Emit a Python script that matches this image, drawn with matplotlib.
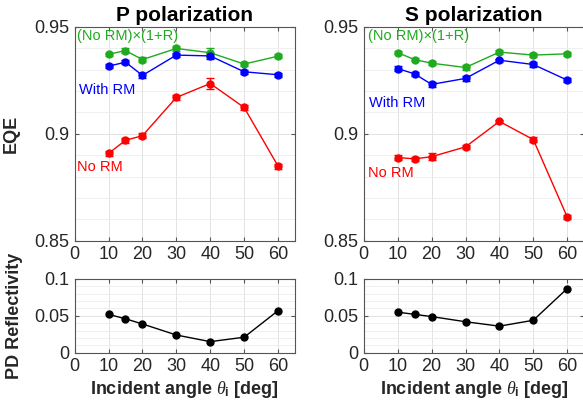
import matplotlib
matplotlib.use('Agg')
import matplotlib.pyplot as plt
from matplotlib.ticker import MultipleLocator

plt.rcParams['font.family'] = ['Liberation Sans', 'DejaVu Sans']
plt.rcParams['mathtext.fontset'] = 'custom'
plt.rcParams['mathtext.it'] = 'Liberation Serif:italic'
plt.rcParams['mathtext.bf'] = 'Liberation Sans:bold'

angles = [10, 15, 20, 30, 40, 50, 60]

# P polarization
p_norm = [0.8908, 0.8970, 0.8991, 0.9170, 0.9235, 0.9123, 0.8849]
p_norm_err = [0.0010, 0.0012, 0.0012, 0.0010, 0.0025, 0.0010, 0.0012]
p_with = [0.9316, 0.9335, 0.9273, 0.9368, 0.9364, 0.9290, 0.9276]
p_with_err = [0.0010, 0.0010, 0.0012, 0.0008, 0.0015, 0.0010, 0.0010]
p_corr = [0.9372, 0.9389, 0.9347, 0.9399, 0.9379, 0.9326, 0.9363]
p_corr_err = [0.0008, 0.0010, 0.0010, 0.0010, 0.0020, 0.0010, 0.0010]
p_refl = [0.052, 0.046, 0.039, 0.024, 0.015, 0.021, 0.057]

# S polarization
s_norm = [0.8889, 0.8883, 0.8893, 0.8939, 0.9058, 0.8973, 0.8611]
s_norm_err = [0.0010, 0.0010, 0.0015, 0.0010, 0.0006, 0.0010, 0.0008]
s_with = [0.9305, 0.9280, 0.9231, 0.9259, 0.9344, 0.9324, 0.9251]
s_with_err = [0.0010, 0.0010, 0.0012, 0.0010, 0.0008, 0.0010, 0.0010]
s_corr = [0.9379, 0.9347, 0.9330, 0.9310, 0.9382, 0.9368, 0.9374]
s_corr_err = [0.0008, 0.0006, 0.0010, 0.0010, 0.0008, 0.0008, 0.0008]
s_refl = [0.055, 0.052, 0.049, 0.042, 0.036, 0.044, 0.087]

GREEN = '#1faa1f'
BLUE = '#0000ff'
RED = '#ff0000'
TXT = '#262626'

fig = plt.figure(figsize=(5.83, 4.13), dpi=100)


def style(ax, ylim, major, minor):
    ax.set_xlim(0, 65)
    ax.set_ylim(*ylim)
    ax.xaxis.set_major_locator(MultipleLocator(10))
    ax.yaxis.set_major_locator(MultipleLocator(major))
    ax.yaxis.set_minor_locator(MultipleLocator(minor))
    ax.grid(True, which='major', color='#e3e3e3', lw=0.7)
    ax.grid(True, which='minor', axis='y', color='#eeeeee', lw=0.6)
    ax.set_axisbelow(True)
    ax.tick_params(which='both', direction='in', top=True, right=True,
                   labelsize=13, length=3, color='#555555', labelcolor=TXT, pad=4)
    ax.tick_params(which='minor', length=0)
    for s in ax.spines.values():
        s.set_color('#555555')
        s.set_linewidth(0.8)


def eqe_panel(rect, title, norm, norm_err, withrm, with_err, corr, corr_err, labels):
    ax = fig.add_axes(rect)
    kw = dict(fmt='o-', ms=5, capsize=3, elinewidth=1, lw=1)
    ax.errorbar(angles, corr, yerr=corr_err, color=GREEN, **kw)
    ax.errorbar(angles, withrm, yerr=with_err, color=BLUE, **kw)
    ax.errorbar(angles, norm, yerr=norm_err, color=RED, **kw)
    style(ax, (0.85, 0.95), 0.05, 0.01)
    ax.yaxis.set_major_formatter(plt.FuncFormatter(lambda v, p: f'{v:g}'))
    ax.set_title(title, fontsize=15, fontweight='bold', pad=4)
    (gx, gy), (bx, by), (rx, ry) = labels
    ax.text(gx, gy, '(No RM)\u00d7(1+R)', color=GREEN, fontsize=10.5, va='center')
    ax.text(bx, by, 'With RM', color=BLUE, fontsize=10.5, va='center')
    ax.text(rx, ry, 'No RM', color=RED, fontsize=10.5, va='center')
    return ax


def refl_panel(rect, refl):
    ax = fig.add_axes(rect)
    ax.plot(angles, refl, 'o-', color='black', ms=5, lw=1)
    style(ax, (0, 0.1), 0.05, 0.01)
    ax.yaxis.set_major_formatter(plt.FuncFormatter(lambda v, p: f'{v:g}'))
    ax.set_xlabel(r'Incident angle $\theta_{\mathbf{i}}$ [deg]', fontsize=13,
                  fontweight='bold', labelpad=3, color=TXT)
    return ax


ax1 = eqe_panel([0.128, 0.417, 0.378, 0.518], 'P polarization',
                p_norm, p_norm_err, p_with, p_with_err, p_corr, p_corr_err,
                [(0.8, 0.9455), (1.4, 0.9205), (0.8, 0.8845)])
ax1.set_ylabel('EQE', fontsize=13, fontweight='bold', labelpad=10, color=TXT)
ax2 = eqe_panel([0.624, 0.417, 0.378, 0.518], 'S polarization',
                s_norm, s_norm_err, s_with, s_with_err, s_corr, s_corr_err,
                [(1.1, 0.9455), (1.5, 0.9145), (1.3, 0.8816)])

ax3 = refl_panel([0.128, 0.146, 0.378, 0.1785], p_refl)
ax3.set_ylabel('PD Reflectivity', fontsize=13, fontweight='bold', labelpad=8, color=TXT)
ax4 = refl_panel([0.624, 0.146, 0.378, 0.1785], s_refl)

fig.savefig('out.png', dpi=100)
